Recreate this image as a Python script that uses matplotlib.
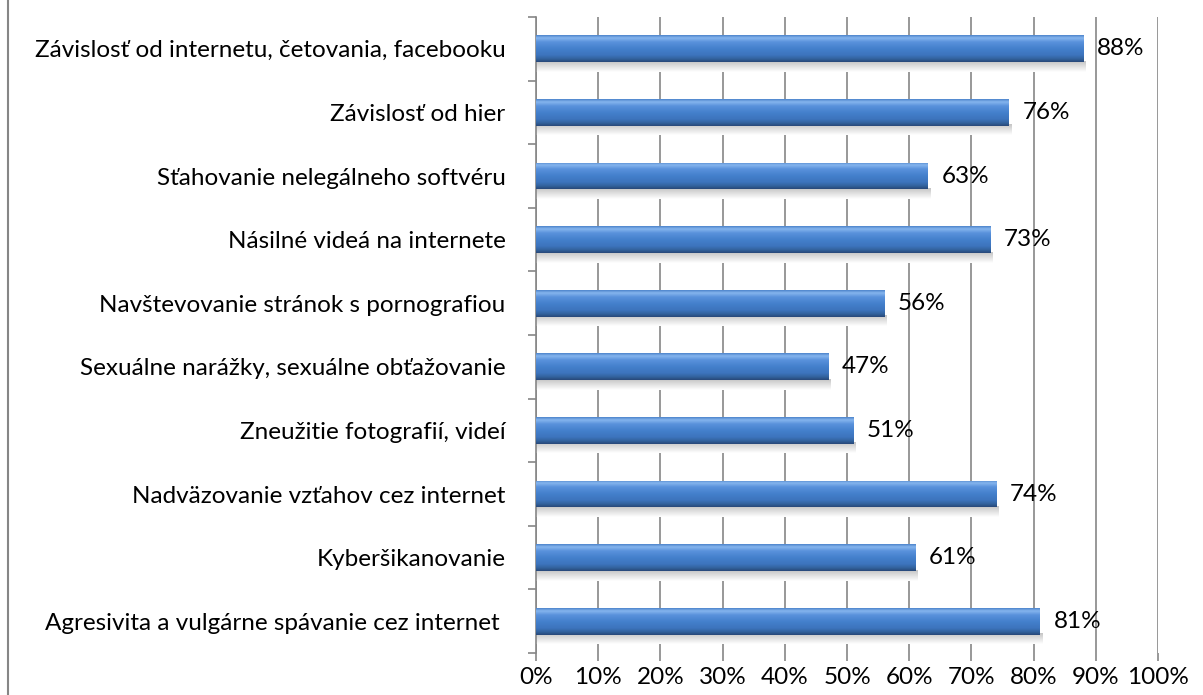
import matplotlib
matplotlib.use("Agg")
import matplotlib.pyplot as plt
import numpy as np
from matplotlib.colors import LinearSegmentedColormap
from matplotlib.lines import Line2D

categories = [
    "Závislosť od internetu, četovania, facebooku",
    "Závislosť od hier",
    "Sťahovanie nelegálneho softvéru",
    "Násilné videá na internete",
    "Navštevovanie stránok s pornografiou",
    "Sexuálne narážky, sexuálne obťažovanie",
    "Zneužitie fotografií, videí",
    "Nadväzovanie vzťahov cez internet",
    "Kyberšikanovanie",
    "Agresivita a vulgárne spávanie cez internet ",
]
values = [88, 76, 63, 73, 56, 47, 51, 74, 61, 81]
x_ticks = list(range(0, 101, 10))

plt.rcParams["font.family"] = ["Lato", "DejaVu Sans"]
FS = 17.5

fig = plt.figure(figsize=(12.03, 6.95), dpi=100)
ax = fig.add_axes([0.4456, 0.0604, 0.9626 - 0.4456, 0.9755 - 0.0604])

y = np.arange(len(categories))
bars = ax.barh(y, values, height=0.42, color="none", edgecolor="none", zorder=3)

bar_cmap = LinearSegmentedColormap.from_list("bar", [
    (0.0, "#4f86cc"), (0.1, "#86b5ee"), (0.25, "#5a92dc"), (0.5, "#4480cc"),
    (0.75, "#3d74bd"), (0.88, "#33649f"), (1.0, "#28497a")])
shadow_cmap = LinearSegmentedColormap.from_list("sh", ["#c4c4c4", "#ffffff"])
grad = np.linspace(0, 1, 64).reshape(-1, 1)

for b in bars:
    x0, y0, w, h = b.get_x(), b.get_y(), b.get_width(), b.get_height()
    # soft shadow below the bar
    ax.imshow(grad, cmap=shadow_cmap, aspect="auto", zorder=2,
              extent=(x0, x0 + w + 0.4, y0 + h + 0.15, y0 + h - 0.02),
              interpolation="bilinear")
    im = ax.imshow(grad, cmap=bar_cmap, aspect="auto", zorder=3,
                   extent=(x0, x0 + w, y0 + h, y0), interpolation="bilinear")
    im.set_clip_path(b)
    ax.text(x0 + w + 2.2, y0 + h / 2, f"{w:g}%", va="center", ha="left",
            fontsize=FS, color="#000000", zorder=4)

ax.set_xlim(0, 100)
ax.set_ylim(len(categories) - 0.5, -0.5)
ax.set_xticks(x_ticks)
ax.set_xticklabels([f"{t}%" for t in x_ticks], fontsize=FS)
ax.set_yticks(y)
ax.set_yticklabels(categories, fontsize=FS)
ax.set_yticks(np.arange(-0.5, len(categories), 1), minor=True)
ax.tick_params(axis="y", which="major", length=0, pad=22)
ax.tick_params(axis="y", which="minor", length=6, color="#868686", width=1.2)
ax.tick_params(axis="x", length=6, color="#868686", width=1.2, pad=4)

ax.grid(axis="x", color="#868686", linewidth=1.2, zorder=0)
ax.set_axisbelow(True)
for s in ["top", "right", "bottom"]:
    ax.spines[s].set_visible(False)
ax.spines["left"].set_color("#868686")
ax.spines["left"].set_linewidth(1.2)

# chart frame edge on the left
fig.add_artist(Line2D([8 / 1203, 8 / 1203], [0, 1], color="#868686", linewidth=1.5))

fig.savefig("out.png", dpi=100)
